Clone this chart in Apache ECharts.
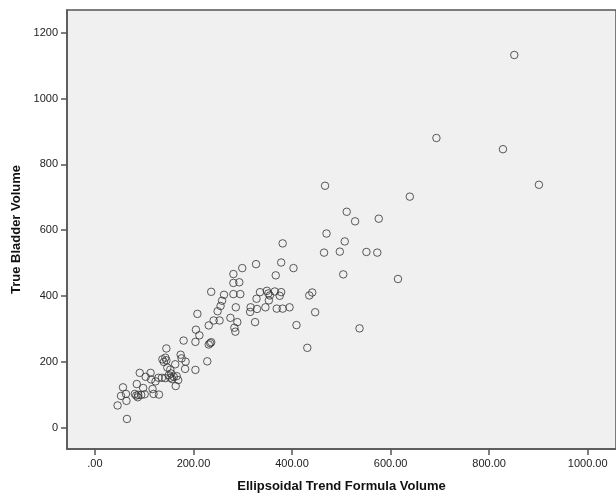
<!DOCTYPE html>
<html>
<head>
<meta charset="utf-8">
<title>True vs Ellipsoidal Bladder Volume</title>
<script src="https://cdn.jsdelivr.net/npm/echarts@6/dist/echarts.min.js"></script>
<style>
  html, body { margin: 0; padding: 0; background: #fff; }
  #chart { width: 616px; height: 498px; }
</style>
</head>
<body>
<div id="chart"></div>
<script>
// Ellipsoidal trend formula volume (x) and true bladder volume (y)
var ellipsoidVol = [
  46, 53, 57, 63, 64, 65, 81, 84, 87, 88, 85, 91, 98, 101, 103, 113, 114, 117, 119, 130,
  123, 129, 136, 143, 145, 137, 140, 143, 145, 147, 153, 153, 155, 160, 163, 164, 166, 169, 174, 176,
  180, 183, 184, 204, 204, 205, 208, 212, 94, 157, 150,
  228, 231, 236, 234, 231, 236, 241, 249, 253, 255, 258, 262, 275, 281, 281, 281, 283, 285, 286,
  289, 293, 295, 299, 315, 316, 325, 327, 328, 329, 335, 346, 349, 353, 355, 352, 365, 367, 369, 375,
  378, 378, 381, 381, 395, 403, 409, 431, 435, 441, 447, 465, 467, 470, 497, 504, 507, 511, 528, 537,
  551, 573, 576, 615, 639, 693, 828, 851, 901
];
var trueVol = [
  68, 97, 123, 103, 82, 27, 103, 98, 93, 100, 133, 167, 121, 102, 155, 167, 147, 118, 103, 101,
  141, 152, 152, 151, 241, 208, 200, 213, 205, 183, 177, 152, 165, 155, 193, 127, 157, 145, 222, 211,
  265, 179, 201, 176, 261, 298, 346, 281, 100, 148, 160,
  202, 253, 260, 257, 311, 413, 326, 354, 326, 370, 386, 404, 334, 467, 440, 406, 304, 292, 366,
  321, 442, 406, 485, 352, 366, 321, 497, 392, 361, 412, 366, 416, 387, 402, 408, 414, 463, 362, 401,
  412, 502, 362, 560, 366, 485, 312, 243, 402, 411, 351, 532, 735, 590, 535, 466, 566, 656, 627, 302,
  534, 532, 635, 452, 702, 880, 846, 1132, 738
];
var xTicks = [0, 200, 400, 600, 800, 1000];
var yTicks = [0, 200, 400, 600, 800, 1000, 1200];

var points = [];
for (var i = 0; i < ellipsoidVol.length; i++) {
  points.push([ellipsoidVol[i], trueVol[i]]);
}

var chart = echarts.init(document.getElementById('chart'));
var lineColor = '#555';
var font = 'Liberation Sans, Arial, sans-serif';

var option = {
  animation: false,
  backgroundColor: '#fff',
  grid: {
    left: 67,
    right: -8,
    top: 10,
    bottom: 46,
    show: true,
    backgroundColor: '#f0f0f0',
    borderColor: lineColor,
    borderWidth: 1.5
  },
  xAxis: {
    type: 'value',
    min: -56.6,
    max: 1057.4,
    name: 'Ellipsoidal Trend Formula Volume',
    nameLocation: 'middle',
    nameGap: 31,
    nameTextStyle: { fontFamily: font, fontWeight: 'bold', fontSize: 13, color: '#111' },
    splitLine: { show: false },
    axisLine: { onZero: false, lineStyle: { color: lineColor, width: 1.5 } },
    axisTick: { length: 6, customValues: xTicks, lineStyle: { color: lineColor, width: 1.5 } },
    axisLabel: {
      customValues: xTicks,
      margin: 9,
      fontFamily: font,
      fontSize: 11,
      color: '#222',
      formatter: function (v) { return v === 0 ? '.00' : v.toFixed(2); }
    }
  },
  yAxis: {
    type: 'value',
    min: -64.2,
    max: 1268.6,
    name: 'True Bladder Volume',
    nameLocation: 'middle',
    nameGap: 37,
    nameTextStyle: { fontFamily: font, fontWeight: 'bold', fontSize: 13, color: '#111' },
    splitLine: { show: false },
    axisLine: { onZero: false, lineStyle: { color: lineColor, width: 1.5 } },
    axisTick: { length: 6, customValues: yTicks, lineStyle: { color: lineColor, width: 1.5 } },
    axisLabel: {
      customValues: yTicks,
      margin: 9,
      fontFamily: font,
      fontSize: 11,
      color: '#222',
      formatter: function (v) { return String(v); }
    }
  },
  series: [
    {
      type: 'scatter',
      data: points,
      symbol: 'circle',
      symbolSize: 7.5,
      itemStyle: {
        color: 'rgba(0,0,0,0)',
        borderColor: '#333',
        borderWidth: 1
      }
    }
  ]
};

chart.setOption(option);
</script>
</body>
</html>
